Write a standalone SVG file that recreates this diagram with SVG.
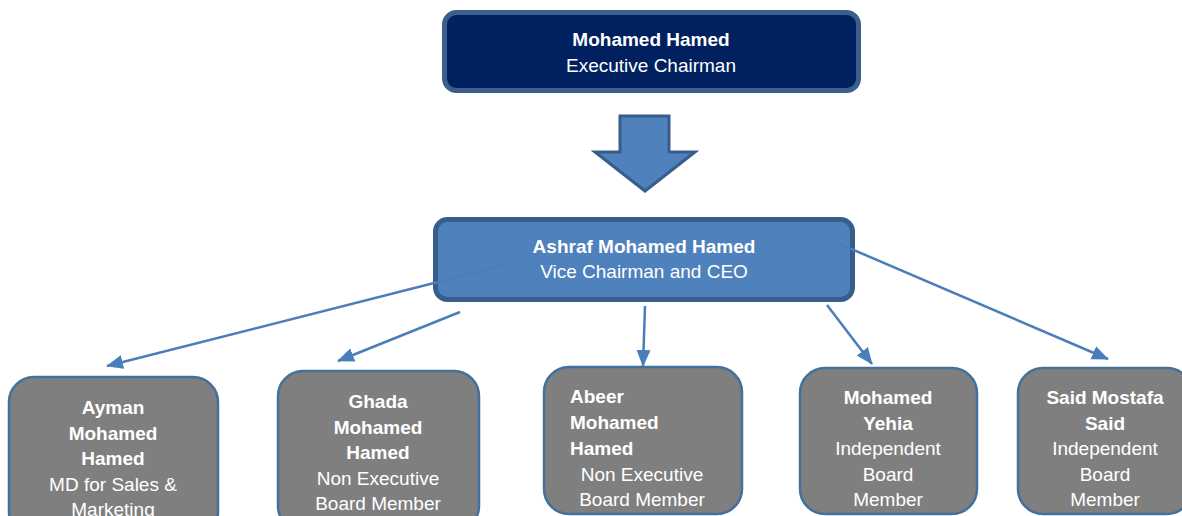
<svg xmlns="http://www.w3.org/2000/svg" width="1182" height="516" viewBox="0 0 1182 516">
<style>
text{font-family:"Liberation Sans",Arial,sans-serif;fill:#ffffff;font-size:19px;text-anchor:middle}
.b{font-weight:bold}
.l{text-anchor:start}
.top{fill:#002060;stroke:#3b5e8c;stroke-width:5}
.ceo{fill:#4f81bd;stroke:#385d8a;stroke-width:5}
.mem{fill:#7f7f7f;stroke:#41719c;stroke-width:2.5}
.con{stroke:#4a7ebb;stroke-width:2.5;fill:none;marker-end:url(#ah)}
</style>
<defs>
<marker id="ah" markerUnits="userSpaceOnUse" markerWidth="18" markerHeight="16" refX="16" refY="7" orient="auto" viewBox="0 0 18 14">
<path d="M0,0 L17,7 L0,14 Z" fill="#4a7ebb"/>
</marker>
</defs>
<g id="chairman">
<rect class="top" x="444.5" y="12.5" width="414" height="78" rx="12"/>
<text class="b" x="651" y="46">Mohamed Hamed</text>
<text x="651" y="72">Executive Chairman</text>
</g>
<g id="block-arrow">
<path d="M620,116 L669,116 L669,152 L695,152 L645,191 L595,152 L620,152 Z" fill="#4f81bd" stroke="#385d8a" stroke-width="3"/>
</g>
<g id="ceo">
<rect class="ceo" x="435.5" y="219.5" width="417" height="80" rx="12"/>
<text class="b" x="644" y="253">Ashraf Mohamed Hamed</text>
<text x="644" y="278">Vice Chairman and CEO</text>
</g>
<g id="ayman">
<rect class="mem" x="9" y="377" width="209" height="160" rx="25"/>
<text class="b" x="113" y="414">Ayman</text>
<text class="b" x="113" y="440">Mohamed</text>
<text class="b" x="113" y="465">Hamed</text>
<text x="113" y="491">MD for Sales &amp;</text>
<text x="113" y="516">Marketing</text>
</g>
<g id="ghada">
<rect class="mem" x="278" y="371" width="201" height="160" rx="25"/>
<text class="b" x="378" y="408">Ghada</text>
<text class="b" x="378" y="434">Mohamed</text>
<text class="b" x="378" y="459">Hamed</text>
<text x="378" y="485">Non Executive</text>
<text x="378" y="510">Board Member</text>
</g>
<g id="abeer">
<rect class="mem" x="544" y="367" width="198" height="147" rx="25"/>
<text class="b l" x="570" y="403">Abeer</text>
<text class="b l" x="570" y="429">Mohamed</text>
<text class="b l" x="570" y="455">Hamed</text>
<text x="642" y="481">Non Executive</text>
<text x="642" y="506">Board Member</text>
</g>
<g id="yehia">
<rect class="mem" x="800" y="368" width="177" height="146" rx="25"/>
<text class="b" x="888" y="404">Mohamed</text>
<text class="b" x="888" y="430">Yehia</text>
<text x="888" y="455">Independent</text>
<text x="888" y="481">Board</text>
<text x="888" y="506">Member</text>
</g>
<g id="said">
<rect class="mem" x="1018" y="368" width="174" height="146" rx="25"/>
<text class="b" x="1105" y="404">Said Mostafa</text>
<text class="b" x="1105" y="430">Said</text>
<text x="1105" y="455">Independent</text>
<text x="1105" y="481">Board</text>
<text x="1105" y="506">Member</text>
</g>
<g id="connectors">
<line class="con" x1="505" y1="265" x2="107" y2="366"/>
<line class="con" x1="460" y1="312" x2="338" y2="361"/>
<line class="con" x1="645" y1="306" x2="643" y2="366"/>
<line class="con" x1="827" y1="305" x2="872" y2="364"/>
<line class="con" x1="835" y1="242" x2="1108" y2="359"/>
</g>
</svg>
